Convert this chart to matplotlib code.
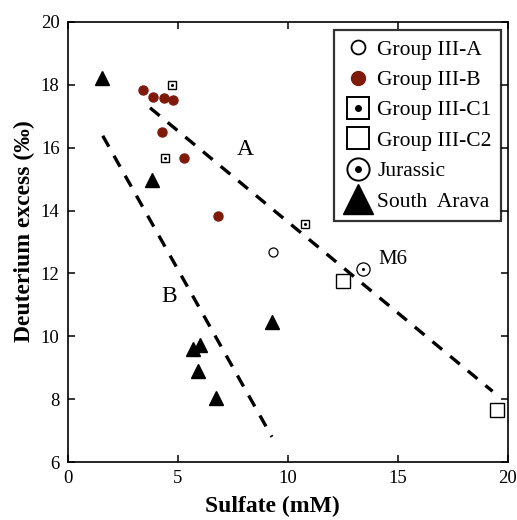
import matplotlib
matplotlib.use("Agg")
import matplotlib.pyplot as plt
from matplotlib.lines import Line2D
from matplotlib.legend_handler import HandlerTuple

plt.rcParams['font.family'] = ['Liberation Serif', 'DejaVu Serif']
plt.rcParams['lines.scale_dashes'] = False

# Data
g3a_x = [9.3]
g3a_y = [12.67]
g3b_x = [3.42, 3.88, 4.38, 4.76, 4.27, 5.26, 6.82]
g3b_y = [17.84, 17.60, 17.57, 17.53, 16.49, 15.67, 13.83]
g3c1_x = [4.73, 4.42, 10.76]
g3c1_y = [18.0, 15.66, 13.56]
g3c2_x = [12.48, 19.49]
g3c2_y = [11.75, 7.65]
jur_x = [13.42]
jur_y = [12.13]
sa_x = [1.55, 3.82, 9.26, 5.67, 6.0, 5.92, 6.71]
sa_y = [18.22, 14.97, 10.46, 9.60, 9.72, 8.91, 8.03]

lineA_x = [3.73, 19.3]
lineA_y = [17.27, 8.25]
lineB_x = [1.58, 9.27]
lineB_y = [16.38, 6.8]

labels = ["Group III-A", "Group III-B", "Group III-C1", "Group III-C2", "Jurassic", "South  Arava"]

red = "#7f1a0a"

fig = plt.figure(figsize=(5.17, 5.20), dpi=100)
ax = fig.add_axes([0.1315, 0.1115, 0.851, 0.8462])

ax.plot(lineA_x, lineA_y, color='black', lw=2.4, dashes=(9, 7.5), solid_capstyle='butt', dash_capstyle='butt')
ax.plot(lineB_x, lineB_y, color='black', lw=2.4, dashes=(9, 7.5), solid_capstyle='butt', dash_capstyle='butt')

ax.plot(g3a_x, g3a_y, 'o', ms=6.5, mfc='white', mec='black', mew=0.9, ls='none')
ax.plot(g3b_x, g3b_y, 'o', ms=6.5, mfc=red, mec=red, ls='none')
ax.plot(g3c1_x, g3c1_y, 's', ms=5.5, mfc='white', mec='black', mew=1.0, ls='none')
ax.plot(g3c1_x, g3c1_y, 'o', ms=1.2, mfc='black', mec='black', ls='none')
ax.plot(g3c2_x, g3c2_y, 's', ms=9.5, mfc='white', mec='black', mew=1.0, ls='none')
ax.plot(jur_x, jur_y, 'o', ms=9.5, mfc='white', mec='black', mew=0.9, ls='none')
ax.plot(jur_x, jur_y, 'o', ms=1.2, mfc='black', mec='black', ls='none')
ax.plot(sa_x, sa_y, '^', ms=9.5, mfc='black', mec='black', ls='none')

ax.text(8.04, 15.93, "A", fontsize=17, ha='center', va='center')
ax.text(4.6, 11.28, "B", fontsize=17, ha='center', va='center')
ax.text(14.77, 12.43, "M6", fontsize=15, ha='center', va='center')

ax.set_xlim(0, 20)
ax.set_ylim(6, 20)
ax.set_xticks([0, 5, 10, 15, 20])
ax.set_yticks([6, 8, 10, 12, 14, 16, 18, 20])
ax.tick_params(direction='in', length=5, width=1.1, top=True, right=True, labelsize=13.5, pad=6)
for s in ax.spines.values():
    s.set_linewidth(1.2)

ax.set_xlabel("Sulfate (mM)", fontsize=17, fontweight='bold')
ax.set_ylabel("Deuterium excess (‰)", fontsize=17, fontweight='bold')
ax.xaxis.set_label_coords(0.4636, -0.078)
ax.yaxis.set_label_coords(-0.075, 0.525)

# Legend handles
h_a = Line2D([], [], marker='o', ms=10, mfc='white', mec='black', mew=1.3, ls='none')
h_b = Line2D([], [], marker='o', ms=10, mfc=red, mec=red, ls='none')
h_c1 = (Line2D([], [], marker='s', ms=16, mfc='white', mec='black', mew=1.4, ls='none'),
        Line2D([], [], marker='o', ms=4, mfc='black', mec='black', ls='none'))
h_c2 = Line2D([], [], marker='s', ms=16, mfc='white', mec='black', mew=1.4, ls='none')
h_j = (Line2D([], [], marker='o', ms=16, mfc='white', mec='black', mew=1.4, ls='none'),
       Line2D([], [], marker='o', ms=4, mfc='black', mec='black', ls='none'))
h_s = Line2D([], [], marker='^', ms=21, mfc='black', mec='black', ls='none')

leg = ax.legend([h_a, h_b, h_c1, h_c2, h_j, h_s], labels,
                handler_map={tuple: HandlerTuple(ndivide=1, pad=0)},
                loc='upper right', bbox_to_anchor=(0.985, 0.982),
                fontsize=15.5, frameon=True, fancybox=False, edgecolor='black',
                handlelength=1.3, handletextpad=0.25, labelspacing=0.48,
                borderpad=0.45, borderaxespad=0.0)
leg.get_frame().set_linewidth(1.6)

fig.savefig("out.png", dpi=100)
